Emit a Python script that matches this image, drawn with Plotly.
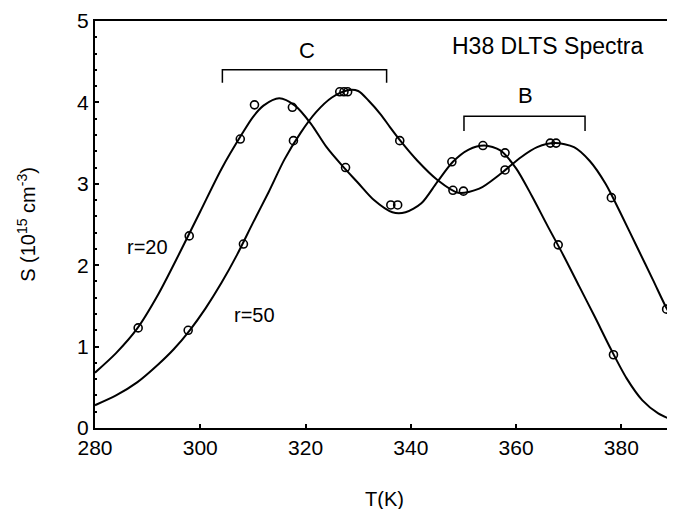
import plotly.graph_objects as go

# ---- data ----
# fitted curves (T in K, S in 1e15 cm^-3)
T_fit_r20 = [280, 284, 288, 292, 296, 300, 304, 308, 310, 312, 315, 318, 321, 324, 327, 330, 333, 336.5,
             339, 342, 345, 348, 351, 354, 357, 360, 363, 366, 369, 372, 375, 378, 381, 384, 387, 390]
S_fit_r20 = [0.68, 0.92, 1.22, 1.64, 2.14, 2.66, 3.18, 3.62, 3.82, 3.96, 4.05, 3.96, 3.74, 3.45, 3.22, 3.01, 2.80, 2.65,
             2.65, 2.76, 3.02, 3.27, 3.42, 3.47, 3.41, 3.19, 2.85, 2.48, 2.12, 1.74, 1.36, 0.97, 0.61, 0.34, 0.18, 0.09]

T_fit_r50 = [280, 284, 288, 292, 295, 298, 301, 304, 307, 310, 313, 316, 319, 322, 325, 328, 330, 332, 334.3,
             336, 338, 341.3, 345, 349, 353, 357, 361, 364, 367.4, 371, 374, 377, 380, 383, 386, 388.6, 390]
S_fit_r50 = [0.28, 0.40, 0.56, 0.78, 0.97, 1.20, 1.47, 1.78, 2.13, 2.52, 2.90, 3.30, 3.62, 3.88, 4.06, 4.15, 4.14, 4.02, 3.85,
             3.70, 3.53, 3.28, 3.05, 2.89, 2.94, 3.12, 3.33, 3.45, 3.50, 3.45, 3.28, 3.00, 2.62, 2.22, 1.82, 1.47, 1.32]

# measured points
T_pts_r20 = [288.2, 297.9, 307.6, 310.3, 317.5, 327.6, 336.2, 337.5, 347.8, 353.7, 357.9, 368.0, 378.5]
S_pts_r20 = [1.23, 2.36, 3.55, 3.97, 3.94, 3.20, 2.74, 2.74, 3.27, 3.47, 3.38, 2.25, 0.90]

T_pts_r50 = [297.7, 308.2, 317.7, 326.5, 327.3, 328.0, 337.9, 348.0, 350.0, 357.9, 366.5, 367.6, 378.1, 388.6]
S_pts_r50 = [1.20, 2.26, 3.53, 4.13, 4.13, 4.13, 3.53, 2.92, 2.91, 3.17, 3.50, 3.50, 2.83, 1.46]

# bracket markers (peak groups): T start, T end, line level, tick bottom
bracket_C = [304.2, 335.4, 4.40, 4.24]
bracket_B = [350.1, 373.1, 3.83, 3.65]

x_ticks = [280, 300, 320, 340, 360, 380]
y_ticks = [0, 1, 2, 3, 4, 5]

FONT = "Liberation Sans, Arial, sans-serif"

fig = go.Figure()
for T, S in [(T_fit_r20, S_fit_r20), (T_fit_r50, S_fit_r50)]:
    fig.add_trace(go.Scatter(x=T, y=S, mode="lines",
                             line=dict(color="black", width=2, shape="spline", smoothing=0.8),
                             showlegend=False, hoverinfo="skip"))
for T, S in [(T_pts_r20, S_pts_r20), (T_pts_r50, S_pts_r50)]:
    fig.add_trace(go.Scatter(x=T, y=S, mode="markers",
                             marker=dict(symbol="circle-open", size=8, color="black",
                                         line=dict(width=1.6, color="black")),
                             showlegend=False))

for b in (bracket_C, bracket_B):
    x0, x1, yl, yb = b
    fig.add_shape(type="path",
                  path=f"M {x0} {yb} L {x0} {yl} L {x1} {yl} L {x1} {yb}",
                  xref="x", yref="y", line=dict(color="black", width=1.5))

annots = [
    ("H38 DLTS Spectra", 366.0, 4.69, 23),
    ("C", 320.3, 4.64, 22),
    ("B", 361.7, 4.08, 22),
    ("r=20", 289.9, 2.22, 20),
    ("r=50", 310.3, 1.39, 20),
]
for txt, x, y, sz in annots:
    fig.add_annotation(x=x, y=y, text=txt, showarrow=False, xref="x", yref="y",
                       font=dict(family=FONT, size=sz, color="black"))

fig.update_layout(
    width=675, height=509,
    margin=dict(l=87, r=9, t=13, b=89),
    paper_bgcolor="white", plot_bgcolor="white",
    font=dict(family=FONT, size=20, color="black"),
)
fig.update_xaxes(range=[280, 390], tickvals=x_ticks, ticks="inside", ticklen=4, tickwidth=1.5,
                 tickcolor="black", showline=True, linecolor="black", linewidth=2, mirror=True,
                 showgrid=False, zeroline=False, tickfont=dict(size=21), automargin=False,
                 title=dict(text="T(K)", font=dict(size=20), standoff=34))
fig.update_yaxes(range=[0, 5], tickvals=y_ticks, ticks="inside", ticklen=4, tickwidth=1.5,
                 tickcolor="black", showline=True, linecolor="black", linewidth=2, mirror=True,
                 showgrid=False, zeroline=False, tickfont=dict(size=21), automargin=False,
                 minor=dict(dtick=0.2, ticks="inside", ticklen=2, tickcolor="black"),
                 title=dict(text="S (10<sup>15</sup> cm<sup>-3</sup>)", font=dict(size=20), standoff=36))

fig.write_html("out.html")
